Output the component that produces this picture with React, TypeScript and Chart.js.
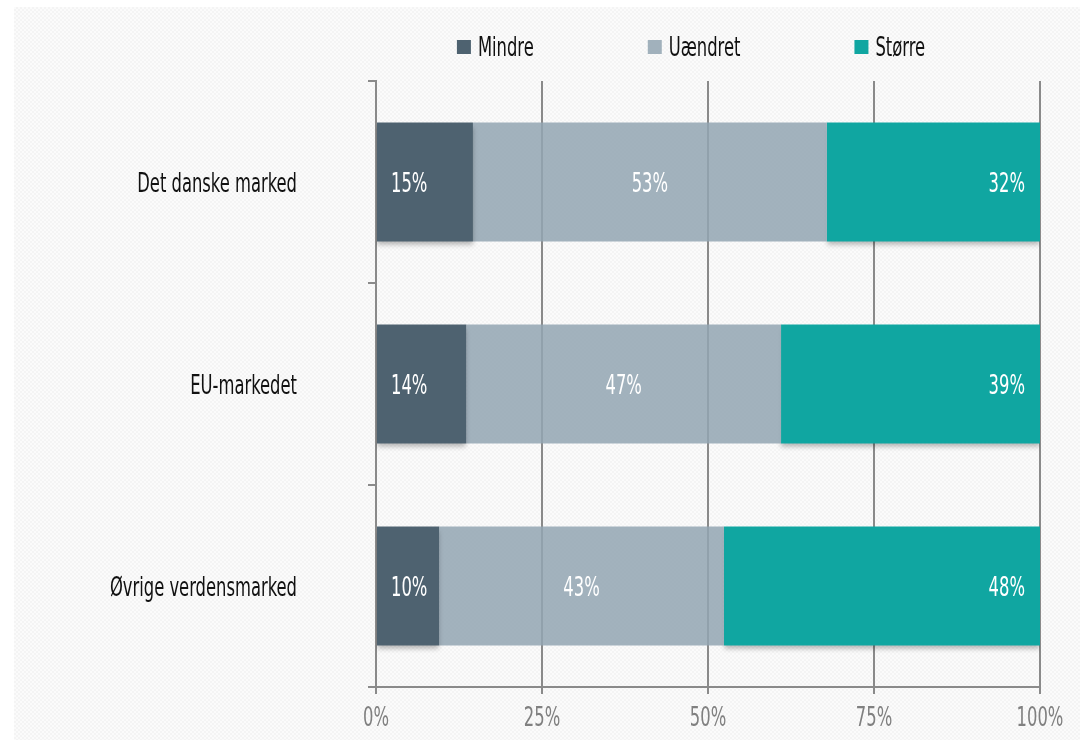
import React, { useEffect, useRef } from "react";
import { Chart, registerables } from "chart.js";

Chart.register(...registerables);

const categories = ["Det danske marked", "EU-markedet", "Øvrige verdensmarked"];
const seriesNames = ["Mindre", "Uændret", "Større"];
const mindre = [14.6, 13.6, 9.5];
const uaendret = [53.3, 47.4, 42.9];
const stoerre = [32.1, 39.0, 47.6];
const xTicks = [0, 25, 50, 75, 100];

const barColors = ["#4E6270", "rgba(146,165,177,0.85)", "#10A6A1"];
const legendColors = ["#4E6270", "#A1B1BC", "#10A6A1"];
const FONT = "'DejaVu Sans Condensed', 'DejaVu Sans', sans-serif";
const FONT_SIZE = 26;
const SX = 0.7;
const GRID = "#8a8a8a";

function drawText(
  ctx: CanvasRenderingContext2D,
  text: string,
  x: number,
  y: number,
  align: "left" | "center" | "right",
  color: string
) {
  ctx.save();
  ctx.font = `${FONT_SIZE}px ${FONT}`;
  ctx.fillStyle = color;
  ctx.textBaseline = "middle";
  ctx.textAlign = align;
  ctx.translate(x, y);
  ctx.scale(SX, 1);
  ctx.fillText(text, 0, 0);
  ctx.restore();
}

function textWidth(ctx: CanvasRenderingContext2D, text: string) {
  ctx.save();
  ctx.font = `${FONT_SIZE}px ${FONT}`;
  const w = ctx.measureText(text).width * SX;
  ctx.restore();
  return w;
}

const shadowPlugin = {
  id: "barShadow",
  beforeDatasetDraw(chart: any, args: any) {
    const ctx = chart.ctx;
    ctx.save();
    if (args.index !== 1) {
      ctx.shadowColor = "rgba(0,0,0,0.28)";
      ctx.shadowBlur = 5;
      ctx.shadowOffsetY = 4;
    }
  },
  afterDatasetDraw(chart: any) {
    chart.ctx.restore();
  },
};

const labelPlugin = {
  id: "barLabels",
  afterDatasetsDraw(chart: any) {
    const ctx = chart.ctx;
    chart.data.datasets.forEach((ds: any, di: number) => {
      const meta = chart.getDatasetMeta(di);
      meta.data.forEach((el: any, i: number) => {
        const p = el.getProps(["x", "y", "base"], true);
        const txt = Math.round(ds.data[i]) + "%";
        if (di === 0) drawText(ctx, txt, p.base + 14, p.y + 3, "left", "#ffffff");
        else if (di === 1) drawText(ctx, txt, (p.x + p.base) / 2, p.y + 3, "center", "#ffffff");
        else drawText(ctx, txt, p.x - 15, p.y + 3, "right", "#ffffff");
      });
    });
  },
};

const axisLabelPlugin = {
  id: "axisLabels",
  afterDraw(chart: any) {
    const ctx = chart.ctx;
    const ys = chart.scales.y;
    ys.ticks.forEach((t: any, i: number) => {
      const y = ys.getPixelForTick(i);
      drawText(ctx, String(ys.getLabelForValue(t.value)), ys.right - 79, y + 3, "right", "#111111");
    });
    const xs = chart.scales.x;
    xs.ticks.forEach((t: any, i: number) => {
      const x = xs.getPixelForTick(i);
      drawText(ctx, t.value + "%", x, xs.top + 32, "center", "#808080");
    });
  },
};

const legendPlugin = {
  id: "customLegend",
  afterDraw(chart: any) {
    const ctx = chart.ctx;
    const box = 14;
    const gap = 7;
    const pad = 114;
    const widths = seriesNames.map((n) => box + gap + textWidth(ctx, n));
    const total = widths.reduce((a, b) => a + b, 0) + pad * (seriesNames.length - 1);
    let x = 677 - total / 2;
    const y = 40;
    seriesNames.forEach((n, i) => {
      ctx.save();
      ctx.fillStyle = legendColors[i];
      ctx.fillRect(x, y - box / 2, box, box);
      ctx.restore();
      drawText(ctx, n, x + box + gap, y + 2, "left", "#111111");
      x += widths[i] + pad;
    });
  },
};

function zeroPad(s: any) {
  s.paddingTop = 0;
  s.paddingBottom = 0;
  s.paddingLeft = 0;
  s.paddingRight = 0;
}

export default function App() {
  const ref = useRef<HTMLCanvasElement>(null);

  useEffect(() => {
    if (!ref.current) return;
    const series = [mindre, uaendret, stoerre];
    const chart = new Chart(ref.current, {
      type: "bar",
      data: {
        labels: categories,
        datasets: seriesNames.map((name, i) => ({
          label: name,
          data: series[i],
          backgroundColor: barColors[i],
          borderWidth: 0,
          barPercentage: 1,
          categoryPercentage: 0.589,
        })),
      },
      options: {
        indexAxis: "y",
        animation: false,
        responsive: true,
        maintainAspectRatio: false,
        layout: { padding: { top: 74, right: 40, left: 0, bottom: 0 } },
        plugins: {
          legend: { display: false },
          tooltip: { enabled: false },
        },
        scales: {
          x: {
            stacked: true,
            min: 0,
            max: 100,
            afterBuildTicks: (s: any) => {
              s.ticks = xTicks.map((v) => ({ value: v }));
            },
            afterFit: (s: any) => {
              s.height = 53;
              zeroPad(s);
            },
            ticks: { display: false },
            grid: { color: GRID, lineWidth: 2, tickLength: 7, drawTicks: true },
            border: { display: true, color: GRID, width: 2 },
          },
          y: {
            stacked: true,
            afterFit: (s: any) => {
              s.width = 362;
              zeroPad(s);
            },
            ticks: { display: false },
            grid: {
              drawOnChartArea: false,
              tickLength: 8,
              color: GRID,
              lineWidth: 2,
              offset: true,
            },
            border: { display: true, color: GRID, width: 2 },
          },
        },
      } as any,
      plugins: [shadowPlugin, labelPlugin, axisLabelPlugin, legendPlugin],
    });
    return () => chart.destroy();
  }, []);

  return (
    <div
      style={{
        position: "absolute",
        left: 14,
        top: 7,
        width: 1066,
        height: 733,
        backgroundColor: "#fbfbfb",
        backgroundImage:
          "repeating-conic-gradient(#f4f4f4 0% 25%, transparent 0% 50%)",
        backgroundSize: "4px 4px",
      }}
    >
      <canvas ref={ref} />
    </div>
  );
}
